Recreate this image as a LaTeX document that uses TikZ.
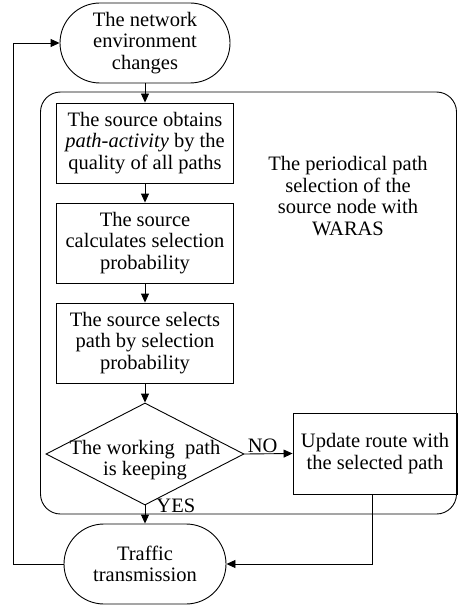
\documentclass[tikz,border=0pt]{standalone}
\usepackage{fontspec}
\setmainfont{Liberation Serif}
\usetikzlibrary{shapes.geometric, positioning, arrows.meta}

\tikzset{
  term/.style={draw, rounded corners=40pt, minimum width=170pt, minimum height=80pt, align=center},
  procbox/.style={draw, minimum width=177pt, minimum height=80pt, align=center},
  arr/.style={-{Triangle[length=9pt,width=8pt]}}
}

\begin{document}
\begin{tikzpicture}[x=1pt, y=-1pt, line width=0.9pt, every node/.style={font=\fontsize{20.5}{21.5}\selectfont, inner sep=2pt}]
            \useasboundingbox (0,0) rectangle (458,607);

            % Frame of the periodical path selection
            \node[draw, rounded corners=20pt, minimum width=416pt, minimum height=422pt] (frame) at (248.5,303) {};
            \node[align=center] (info) at (348,196) {The periodical path\\selection of the\\source node with\\WARAS};

            % Start and end
            \node[term] (start) at (145,43) {The network\\environment\\changes};
            \node[term, minimum width=162pt] (traffic) at (145,564) {Traffic\\transmission};

            % Steps
            \node[procbox] (obtain) at (145,143) {The source obtains\\\textit{path-activity} by the\\quality of all paths};
            \node[procbox] (calc) at (145,243) {The source\\calculates selection\\probability};
            \node[procbox] (select) at (145,343) {The source selects\\path by selection\\probability};
            \node[draw, diamond, minimum width=198pt, minimum height=102pt, inner sep=0pt,
                  label={[align=center, yshift=-6pt]center:The working\ \ path\\is keeping}] (keep) at (145,454) {};
            \node[draw, minimum width=164pt, minimum height=81pt, align=center] (update) at (375,453.5) {Update route with\\the selected path};

            % Lines
            \draw[arr] (start) -- (obtain);
            \draw[arr] (obtain) -- (calc);
            \draw[arr] (calc) -- (select);
            \draw[arr] (select) -- (keep.north);
            \draw[arr] (keep.east) -- node[above, pos=0.38, inner sep=1pt] {NO} (update.west);
            \draw[arr] (keep.south) -- node[pos=0, anchor=west, xshift=11pt, inner sep=0pt] {YES} (traffic.north);
            \draw[arr] (update.south -| 372,0) |- (traffic.east);
            \coordinate (loop) at (13,564);
            \draw[arr] (traffic.west) -- (loop) |- (start.west);
        \end{tikzpicture}
\end{document}
